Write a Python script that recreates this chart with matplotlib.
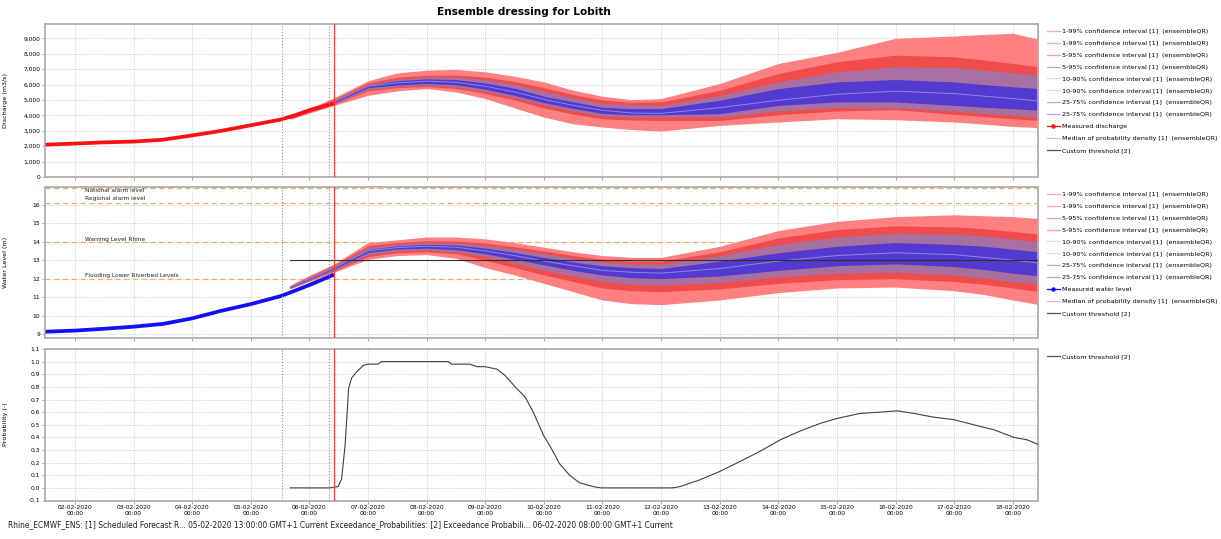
import numpy as np
import pandas as pd
import matplotlib
matplotlib.use("Agg")
import matplotlib.pyplot as plt
import matplotlib.dates as mdates
from matplotlib.lines import Line2D
from matplotlib.ticker import FuncFormatter, MultipleLocator

# time is stored as days after 02-02-2020 00:00
DAY0 = "2020-02-02 00:00"

# measured series
MEAS_T = [-0.5, 0.0, 0.5, 1.0, 1.5, 2.0, 2.5, 3.0, 3.5, 3.75, 4.0, 4.42]
MEAS_Q = [2100, 2170, 2250, 2300, 2420, 2700, 3000, 3360, 3720, 4000, 4340, 4780]
MEAS_H = [9.14, 9.20, 9.30, 9.41, 9.56, 9.86, 10.27, 10.63, 11.05, 11.35, 11.66, 12.22]

# forecast quantiles
FC_T = [3.67, 4.0, 4.42, 5.0, 5.5, 6.0, 6.5, 7.0, 7.5, 8.0, 8.5, 9.0, 9.5, 10.0,
        11.0, 12.0, 13.0, 14.0, 15.0, 15.5, 16.0, 16.45]

Q99 = [3950, 4450, 5150, 6250, 6760, 6930, 6980, 6830, 6540, 6170, 5630, 5240, 5020, 5090, 6070, 7370, 8090, 9000, 9150, 9250, 9330, 8930]
Q95 = [3920, 4400, 5050, 6100, 6480, 6600, 6620, 6480, 6200, 5800, 5350, 5000, 4850, 4870, 5630, 6720, 7480, 7910, 7800, 7600, 7370, 7150]
Q90 = [3900, 4370, 5000, 6000, 6350, 6480, 6480, 6330, 6020, 5560, 5130, 4780, 4680, 4650, 5300, 6170, 6830, 7150, 7110, 6950, 6760, 6610]
Q75 = [3870, 4330, 4950, 5950, 6250, 6370, 6320, 6100, 5760, 5240, 4880, 4520, 4440, 4440, 4980, 5740, 6170, 6330, 6170, 6000, 5850, 5740]
Q50 = [3850, 4300, 4880, 5890, 6110, 6220, 6150, 5890, 5520, 5040, 4650, 4330, 4150, 4130, 4500, 4980, 5370, 5570, 5410, 5250, 5090, 4930]
Q25 = [3830, 4270, 4820, 5800, 5970, 6070, 5990, 5700, 5300, 4830, 4450, 4130, 4040, 4040, 4110, 4650, 4870, 4870, 4650, 4530, 4430, 4330]
Q10 = [3800, 4230, 4760, 5700, 5870, 5960, 5850, 5550, 5150, 4680, 4280, 3960, 3900, 3890, 3890, 4280, 4500, 4480, 4280, 4130, 4000, 3890]
Q05 = [3780, 4200, 4720, 5600, 5800, 5870, 5750, 5420, 5000, 4480, 4080, 3780, 3700, 3670, 3670, 4040, 4280, 4370, 4070, 3920, 3780, 3670]
Q01 = [3750, 4150, 4650, 5300, 5590, 5740, 5520, 5090, 4480, 3890, 3450, 3240, 3080, 2980, 3350, 3570, 3780, 3720, 3570, 3430, 3280, 3200]

W99 = [11.65, 12.18, 12.80, 13.95, 14.10, 14.25, 14.25, 14.15, 13.95, 13.70, 13.45, 13.25, 13.15, 13.15, 13.75, 14.60, 15.10, 15.35, 15.45, 15.40, 15.35, 15.25]
W95 = [11.62, 12.12, 12.73, 13.78, 13.95, 14.05, 14.03, 13.93, 13.72, 13.50, 13.25, 13.05, 12.95, 12.95, 13.45, 14.20, 14.65, 14.85, 14.80, 14.70, 14.55, 14.40]
W90 = [11.60, 12.08, 12.68, 13.68, 13.87, 13.95, 13.93, 13.80, 13.60, 13.35, 13.10, 12.90, 12.80, 12.80, 13.25, 13.85, 14.25, 14.45, 14.40, 14.30, 14.15, 14.00]
W75 = [11.58, 12.04, 12.63, 13.58, 13.77, 13.85, 13.82, 13.65, 13.42, 13.15, 12.90, 12.70, 12.60, 12.55, 12.95, 13.40, 13.75, 13.95, 13.85, 13.75, 13.60, 13.45]
W50 = [11.55, 12.00, 12.58, 13.50, 13.68, 13.75, 13.70, 13.50, 13.25, 12.95, 12.70, 12.45, 12.35, 12.30, 12.55, 12.95, 13.25, 13.40, 13.30, 13.15, 13.00, 12.85]
W25 = [11.52, 11.97, 12.53, 13.42, 13.60, 13.65, 13.57, 13.35, 13.05, 12.75, 12.45, 12.20, 12.05, 12.00, 12.15, 12.45, 12.70, 12.80, 12.65, 12.50, 12.30, 12.15]
W10 = [11.50, 11.93, 12.47, 13.30, 13.50, 13.55, 13.45, 13.20, 12.85, 12.45, 12.15, 11.85, 11.70, 11.65, 11.80, 12.10, 12.30, 12.35, 12.20, 12.05, 11.85, 11.70]
W05 = [11.48, 11.90, 12.42, 13.20, 13.40, 13.45, 13.35, 13.00, 12.60, 12.20, 11.85, 11.50, 11.35, 11.30, 11.45, 11.75, 11.95, 12.00, 11.85, 11.70, 11.50, 11.30]
W01 = [11.45, 11.85, 12.35, 13.05, 13.25, 13.30, 13.10, 12.60, 12.20, 11.75, 11.30, 10.85, 10.65, 10.60, 10.85, 11.25, 11.50, 11.55, 11.35, 11.15, 10.85, 10.60]

THRESHOLD = 13.0

# alarm levels (water level panel)
LEVEL_NAMES = ["National alarm level", "Regional alarm level", "Warning Level Rhine", "Flooding Lower Riverbed Levels"]
LEVEL_VALUES = [16.9, 16.1, 14.0, 12.0]
LEVEL_TEXT_Y = [16.76, 16.33, 14.13, 12.15]

# exceedance probability of custom threshold
PROB_T = [3.67, 4.35, 4.49, 4.55, 4.61, 4.67, 4.72, 4.81, 4.92, 5.0, 5.17, 5.23, 6.37, 6.43,
          6.74, 6.86, 7.0, 7.2, 7.34, 7.51, 7.68, 7.82, 7.99, 8.13, 8.27, 8.44, 8.61, 8.84,
          8.98, 10.2, 10.32, 10.64, 11.0, 11.35, 11.69, 12.03, 12.37, 12.71, 13.0, 13.4,
          13.74, 14.03, 14.31, 14.65, 15.0, 15.33, 15.68, 16.02, 16.25, 16.45]
PROB_V = [0, 0, 0.01, 0.07, 0.34, 0.79, 0.87, 0.92, 0.97, 0.98, 0.98, 1.0, 1.0, 0.98,
          0.98, 0.96, 0.96, 0.94, 0.89, 0.80, 0.72, 0.60, 0.42, 0.31, 0.19, 0.10, 0.04, 0.01,
          0, 0, 0.01, 0.06, 0.13, 0.21, 0.29, 0.38, 0.45, 0.51, 0.55, 0.59,
          0.60, 0.61, 0.59, 0.56, 0.54, 0.50, 0.46, 0.40, 0.38, 0.34]

# forecast time markers
T_FORECAST = 3.54   # 05-02 13:00
T_PROB = 4.333      # 06-02 08:00
T_NOW = 4.417       # 06-02 10:00
XLIM = (-0.51, 16.43)

FOOTER = ("Rhine_ECMWF_ENS: [1] Scheduled Forecast R... 05-02-2020 13:00:00 GMT+1 Current "
          "Exceedance_Probabilities: [2] Exceedance Probabili... 06-02-2020 08:00:00 GMT+1 Current")

C_99 = "#ff8080"
C_95 = "#f04c4c"
C_90 = "#a870a0"
C_75 = "#5239d0"
C_MED = "#8f86e0"
C_GRID = "#c4c4c4"
C_SPINE = "#b0b0b0"
C_LEVEL = "#f7a868"


def tnum(days):
    t = pd.Timestamp(DAY0) + pd.to_timedelta(np.asarray(days, dtype=float), unit="D")
    return mdates.date2num(t.to_pydatetime())


def style_axes(ax):
    ax.grid(True, color=C_GRID, linestyle=(0, (1, 1.5)), linewidth=0.6)
    ax.set_axisbelow(True)
    for s in ax.spines.values():
        s.set_color(C_SPINE)
        s.set_linewidth(1.3)
    ax.tick_params(labelsize=4.3, length=2, width=0.5, color="#888888", pad=1.5)
    ax.xaxis.set_major_locator(mdates.DayLocator())
    ax.xaxis.set_major_formatter(mdates.DateFormatter("%d-%m-%Y\n%H:%M"))
    ax.set_xlim(tnum(XLIM[0]), tnum(XLIM[1]))
    for t, c, ls in [(T_FORECAST, "#909090", ":"), (T_PROB, "#909090", ":"), (T_NOW, "#ff3a3a", "-")]:
        ax.axvline(tnum(t), color=c, linestyle=ls, linewidth=0.85 if ls == "-" else 0.8, zorder=5)
    ax.yaxis.set_label_coords(-0.037, 0.5)


def bands(ax, t, lo99, lo95, lo90, lo75, med, hi75, hi90, hi95, hi99):
    ax.fill_between(t, lo99, hi99, color=C_99, lw=0, zorder=2)
    ax.fill_between(t, lo95, hi95, color=C_95, lw=0, zorder=2)
    ax.fill_between(t, lo90, hi90, color=C_90, lw=0, zorder=2)
    ax.fill_between(t, lo75, hi75, color=C_75, lw=0, zorder=2)
    ax.plot(t, med, color=C_MED, lw=0.7, zorder=3)


def legend_handles(measured_label, measured_color):
    ci = "confidence interval [1]  (ensembleQR)"
    items = [
        (f"1-99% {ci}", "#ffa8a8", None), (f"1-99% {ci}", "#ffa8a8", None),
        (f"5-95% {ci}", "#ff9898", None), (f"5-95% {ci}", "#ff9898", None),
        (f"10-90% {ci}", "#d4dcff", None), (f"10-90% {ci}", "#d4dcff", None),
        (f"25-75% {ci}", "#a8a8ff", None), (f"25-75% {ci}", "#a8a8ff", None),
        (measured_label, measured_color, "o"),
        ("Median of probability density [1]  (ensembleQR)", "#c8c8c8", None),
        ("Custom threshold [2]", "#505050", None),
    ]
    hs = [Line2D([], [], color=c, lw=0.9, marker=m, markersize=2.2) for _, c, m in items]
    return hs, [l for l, _, _ in items]


def add_legend(ax, hs, labels):
    ax.legend(hs, labels, loc="upper left", bbox_to_anchor=(1.004, 1.0), frameon=False,
              fontsize=4.6, handlelength=2.0, handletextpad=0.4, labelspacing=1.0,
              borderaxespad=0.3, borderpad=0.45)


fig = plt.figure(figsize=(12.21, 5.39), dpi=100)
L, W = 45 / 1221, (1038 - 45) / 1221
ax1 = fig.add_axes([L, 1 - 177 / 539, W, (177 - 24) / 539])
ax2 = fig.add_axes([L, 1 - 338 / 539, W, (338 - 187) / 539])
ax3 = fig.add_axes([L, 1 - 500.5 / 539, W, (500.5 - 349) / 539])

ft = tnum(FC_T)

# discharge
bands(ax1, ft, Q01, Q05, Q10, Q25, Q50, Q75, Q90, Q95, Q99)
ax1.plot(tnum(MEAS_T), MEAS_Q, color="#ff1010", lw=2.7, zorder=4, solid_capstyle="butt")
ax1.set_ylim(0, 9930)
ax1.yaxis.set_major_locator(MultipleLocator(1000))
ax1.yaxis.set_major_formatter(FuncFormatter(lambda v, p: f"{v:,.0f}"))
ax1.set_ylabel("Discharge (m3/s)", fontsize=4.6)
style_axes(ax1)
ax1.tick_params(labelbottom=False)
hs, labels = legend_handles("Measured discharge", "#ff1010")
add_legend(ax1, hs, labels)

# water level
bands(ax2, ft, W01, W05, W10, W25, W50, W75, W90, W95, W99)
ax2.plot(tnum(MEAS_T), MEAS_H, color="#1010ff", lw=2.7, zorder=4, solid_capstyle="butt")
ax2.plot(tnum([FC_T[0], XLIM[1]]), [THRESHOLD, THRESHOLD], color="#303030", lw=0.8, zorder=4)
for name, val, ty in zip(LEVEL_NAMES, LEVEL_VALUES, LEVEL_TEXT_Y):
    ax2.axhline(val, color=C_LEVEL, linestyle=(0, (4, 3)), lw=0.9, zorder=1)
    ax2.text(tnum(0.17), ty, name, fontsize=4.2, va="center", ha="left", color="#202020")
ax2.set_ylim(8.8, 16.95)
ax2.yaxis.set_major_locator(MultipleLocator(1))
ax2.set_ylabel("Water Level (m)", fontsize=4.6)
style_axes(ax2)
ax2.tick_params(labelbottom=False)
hs, labels = legend_handles("Measured water level", "#1010ff")
add_legend(ax2, hs, labels)

# probability
ax3.plot(tnum(PROB_T), PROB_V, color="#404040", lw=0.8, zorder=4)
ax3.set_ylim(-0.1, 1.1)
ax3.yaxis.set_major_locator(MultipleLocator(0.1))
ax3.yaxis.set_major_formatter(FuncFormatter(lambda v, p: f"{v:.1f}"))
ax3.set_ylabel("Probability (-)", fontsize=4.6)
style_axes(ax3)
ax3.legend([Line2D([], [], color="#505050", lw=0.9)], ["Custom threshold [2]"], loc="upper left",
           bbox_to_anchor=(1.004, 1.0), frameon=False, fontsize=4.6, handlelength=2.0,
           handletextpad=0.4, borderaxespad=0.3, borderpad=0.45)

fig.text(524 / 1221, 1 - 12 / 539, "Ensemble dressing for Lobith", ha="center", va="center",
         fontsize=7.6, fontweight="bold")
fig.text(8 / 1221, 1 - 525 / 539, FOOTER, ha="left", va="center", fontsize=5.45, color="#202020")

fig.savefig("out.png", dpi=100)
